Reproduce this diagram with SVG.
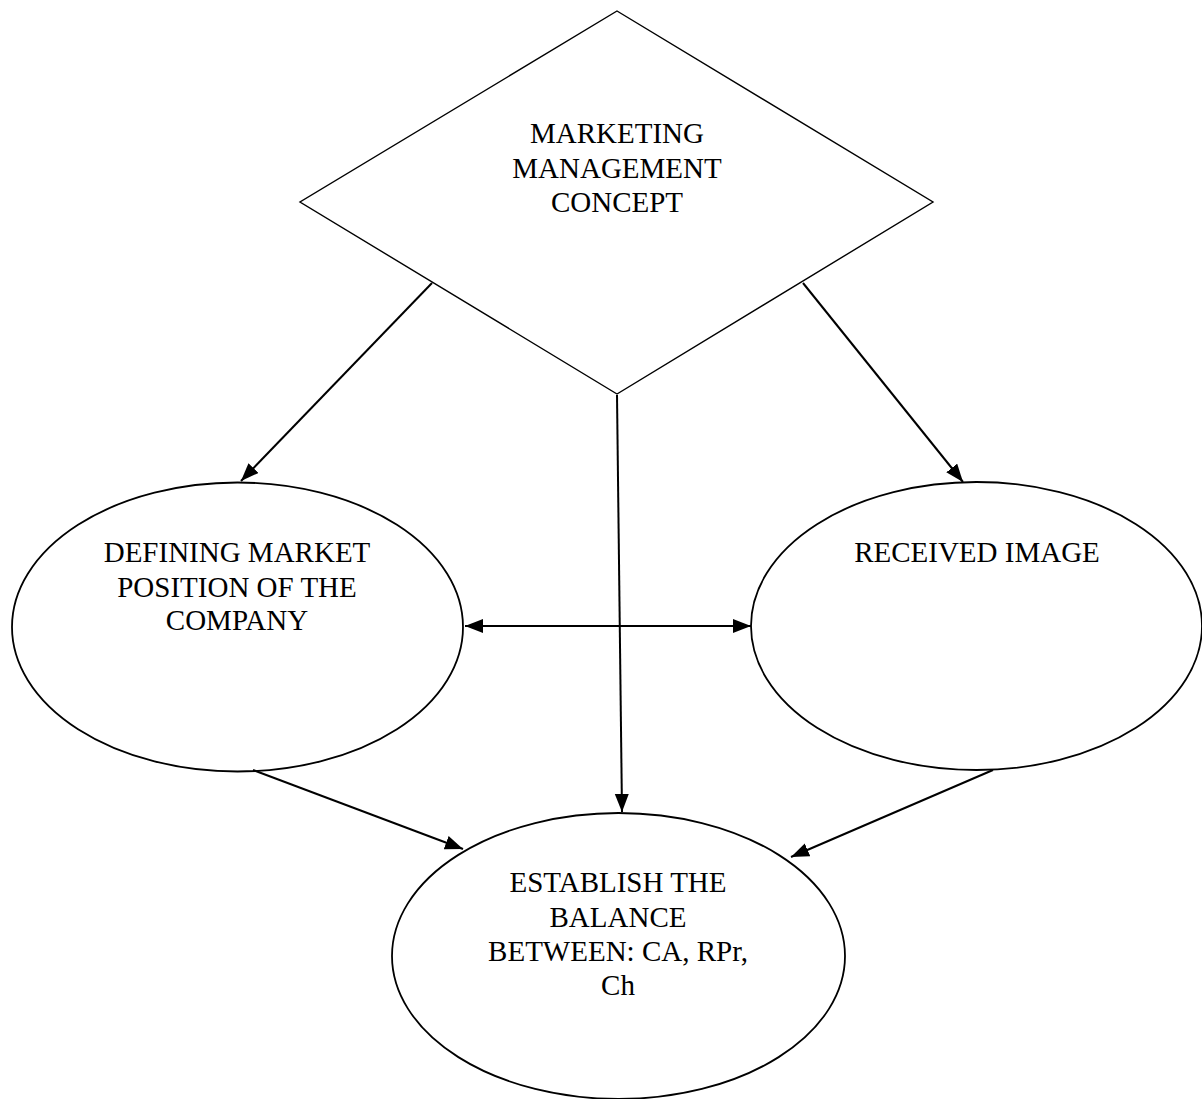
<svg xmlns="http://www.w3.org/2000/svg" width="1202" height="1099" viewBox="0 0 1202 1099">
<defs>
<style>
.shape{fill:#fff;stroke:#000;stroke-width:1.8}
.lbl{font-family:"Liberation Serif","Times New Roman",serif;font-size:29px;fill:#000;text-anchor:middle}
.conn{stroke:#000;stroke-width:2;fill:none}
</style>
<marker id="ah" markerUnits="userSpaceOnUse" markerWidth="19" markerHeight="15" refX="18" refY="7" orient="auto-start-reverse">
<path d="M0,0 L18,7 L0,14 z" fill="#000"/>
</marker>
</defs>
<rect width="1202" height="1099" fill="#fff"/>
<g id="node-marketing">
<polygon class="shape" points="617,11 933,202 617,394 300,202" style="stroke-width:1.4"/>
<text class="lbl" x="617" y="143">MARKETING</text>
<text class="lbl" x="617" y="178">MANAGEMENT</text>
<text class="lbl" x="617" y="212">CONCEPT</text>
</g>
<g id="node-defining">
<ellipse class="shape" cx="237.5" cy="627" rx="225.5" ry="144.5"/>
<text class="lbl" x="237" y="562">DEFINING MARKET</text>
<text class="lbl" x="237" y="596.5">POSITION OF THE</text>
<text class="lbl" x="237" y="630">COMPANY</text>
</g>
<g id="node-received">
<ellipse class="shape" cx="976.5" cy="626" rx="225.5" ry="144"/>
<text class="lbl" x="977" y="562">RECEIVED IMAGE</text>
</g>
<g id="node-establish">
<ellipse class="shape" cx="618.5" cy="956" rx="226.5" ry="143"/>
<text class="lbl" x="618" y="892">ESTABLISH THE</text>
<text class="lbl" x="618" y="926.5">BALANCE</text>
<text class="lbl" x="618" y="961">BETWEEN: CA, RPr,</text>
<text class="lbl" x="618" y="995">Ch</text>
</g>
<g id="connectors">
<line class="conn" x1="432" y1="283" x2="241" y2="481" marker-end="url(#ah)"/>
<line class="conn" x1="617" y1="395" x2="622" y2="812" marker-end="url(#ah)"/>
<line class="conn" x1="803" y1="283" x2="963" y2="482" marker-end="url(#ah)"/>
<line class="conn" x1="465" y1="626" x2="751" y2="626" marker-start="url(#ah)" marker-end="url(#ah)"/>
<line class="conn" x1="253" y1="770" x2="463" y2="849" marker-end="url(#ah)"/>
<line class="conn" x1="993" y1="770" x2="791" y2="857" marker-end="url(#ah)"/>
</g>
</svg>
